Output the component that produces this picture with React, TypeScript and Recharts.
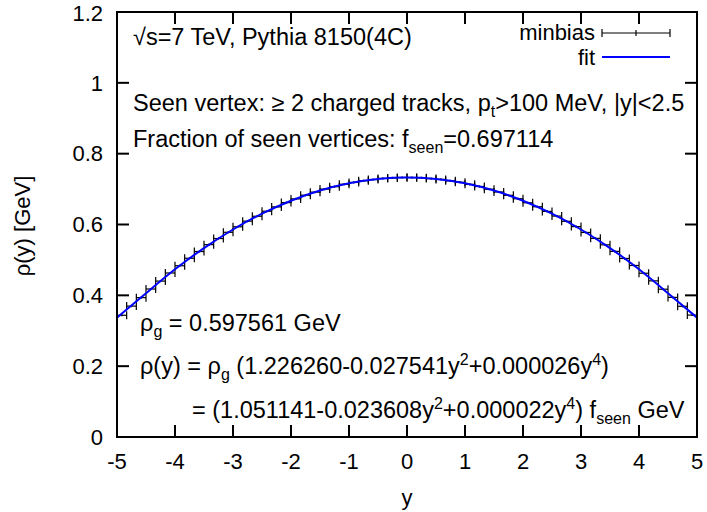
import { ComposedChart, Line, Scatter, ErrorBar, XAxis, YAxis } from 'recharts';

const FONT = '"Liberation Sans", Arial, Helvetica, sans-serif';

// bin centres of the minbias histogram (60 bins over -5..5)
const binCenters = [
  -4.9167, -4.75, -4.5833, -4.4167, -4.25, -4.0833, -3.9167, -3.75, -3.5833, -3.4167,
  -3.25, -3.0833, -2.9167, -2.75, -2.5833, -2.4167, -2.25, -2.0833, -1.9167, -1.75,
  -1.5833, -1.4167, -1.25, -1.0833, -0.9167, -0.75, -0.5833, -0.4167, -0.25, -0.0833,
  0.0833, 0.25, 0.4167, 0.5833, 0.75, 0.9167, 1.0833, 1.25, 1.4167, 1.5833,
  1.75, 1.9167, 2.0833, 2.25, 2.4167, 2.5833, 2.75, 2.9167, 3.0833, 3.25,
  3.4167, 3.5833, 3.75, 3.9167, 4.0833, 4.25, 4.4167, 4.5833, 4.75, 4.9167,
];

const minbias = [
  0.3437, 0.3696, 0.3935, 0.4179, 0.4402, 0.4631, 0.4836, 0.5047, 0.5237, 0.5431,
  0.5604, 0.578, 0.5936, 0.6095, 0.6233, 0.6375, 0.6497, 0.6618, 0.6723, 0.6827,
  0.6914, 0.7, 0.7069, 0.7137, 0.7188, 0.7237, 0.727, 0.7301, 0.7315, 0.7328,
  0.7326, 0.7318, 0.7297, 0.7274, 0.7233, 0.7192, 0.7133, 0.7073, 0.6996, 0.6918,
  0.6823, 0.6727, 0.6614, 0.6501, 0.637, 0.6238, 0.609, 0.5941, 0.5775, 0.5609,
  0.5426, 0.5242, 0.5041, 0.4843, 0.4624, 0.4409, 0.4173, 0.3942, 0.369, 0.3443,
];

const binHalfWidth = 0.0833;
const minbiasErr = 0.003;

const fitX = [-5, -4.5, -4, -3.5, -3, -2.5, -2, -1.5, -1, -0.5, 0, 0.5, 1, 1.5, 2, 2.5, 3, 3.5, 4, 4.5, 5];
const fitY = [
  0.337, 0.4059, 0.4734, 0.5335, 0.5859, 0.6305, 0.6672, 0.6958, 0.7163, 0.7287, 0.7328,
  0.7287, 0.7163, 0.6958, 0.6672, 0.6305, 0.5859, 0.5335, 0.4734, 0.4059, 0.337,
];

const xTicks = [-5, -4, -3, -2, -1, 0, 1, 2, 3, 4, 5];
const yTicks = [0, 0.2, 0.4, 0.6, 0.8, 1, 1.2];
const xMin = -5;
const xMax = 5;
const yMin = 0;
const yMax = 1.2;

const points = binCenters.map((x, i) => ({ x, v: minbias[i], ex: binHalfWidth, ey: minbiasErr }));
const fitRows = fitX.map((x, i) => ({ x, fit: fitY[i] }));

// plot box in page pixels (also drives the chart margins)
const W = 707;
const H = 512;
const box = { left: 117, top: 12, right: 697, bottom: 437 };
const TICK = 12;
const px = (v: number) => box.left + ((v - xMin) / (xMax - xMin)) * (box.right - box.left);
const py = (v: number) => box.bottom - ((v - yMin) / (yMax - yMin)) * (box.bottom - box.top);

const frame = { stroke: '#000', strokeWidth: 2 };
const tickFont = { fontSize: 22, fontFamily: FONT, fill: '#000' };
const txt = { fontSize: 23.5, fontFamily: FONT, fill: '#000' };
const sub = 16;

export default function App() {
  return (
    <div style={{ position: 'absolute', left: 0, top: 0, width: W, height: H, background: '#fff' }}>
      <ComposedChart
        width={W}
        height={H}
        data={fitRows}
        margin={{ top: box.top, right: W - box.right, bottom: 0, left: 0 }}
      >
        <XAxis
          dataKey="x"
          type="number"
          domain={[xMin, xMax]}
          ticks={xTicks}
          height={H - box.bottom}
          tickSize={0}
          tickLine={false}
          tickMargin={16}
          tick={tickFont}
          axisLine={false}
          allowDataOverflow
        />
        <YAxis
          type="number"
          domain={[yMin, yMax]}
          ticks={yTicks}
          width={box.left}
          tickSize={0}
          tickLine={false}
          tickMargin={14}
          tick={tickFont}
          axisLine={false}
          allowDataOverflow
        />
        <Scatter data={points} dataKey="v" shape={() => <g />} isAnimationActive={false}>
          <ErrorBar dataKey="ex" direction="x" width={4} stroke="#000" strokeWidth={1.2} />
          <ErrorBar dataKey="ey" direction="y" width={0} stroke="#000" strokeWidth={1.2} />
        </Scatter>
        <Line
          dataKey="fit"
          type="natural"
          stroke="#0000ff"
          strokeWidth={2}
          dot={false}
          isAnimationActive={false}
        />
      </ComposedChart>

      <svg width={W} height={H} style={{ position: 'absolute', left: 0, top: 0, pointerEvents: 'none' }}>
        {/* plot border with inward ticks on all four sides */}
        <rect
          x={box.left}
          y={box.top}
          width={box.right - box.left}
          height={box.bottom - box.top}
          fill="none"
          stroke="#000"
          strokeWidth={2}
        />
        {xTicks.map((t) => (
          <g key={'tx' + t}>
            <line x1={px(t)} y1={box.top} x2={px(t)} y2={box.top + TICK} {...frame} />
            <line x1={px(t)} y1={box.bottom} x2={px(t)} y2={box.bottom - TICK} {...frame} />
          </g>
        ))}
        {yTicks.map((t) => (
          <g key={'ty' + t}>
            <line x1={box.left} y1={py(t)} x2={box.left + TICK} y2={py(t)} {...frame} />
            <line x1={box.right} y1={py(t)} x2={box.right - TICK} y2={py(t)} {...frame} />
          </g>
        ))}

        {/* legend */}
        <text x={595} y={40} textAnchor="end" {...tickFont}>minbias</text>
        <line x1={602} y1={33} x2={670} y2={33} stroke="#000" strokeWidth={1.2} />
        <line x1={602} y1={29} x2={602} y2={37} stroke="#000" strokeWidth={1.2} />
        <line x1={670} y1={29} x2={670} y2={37} stroke="#000" strokeWidth={1.2} />
        <line x1={636} y1={30} x2={636} y2={36} stroke="#000" strokeWidth={1.2} />
        <text x={595} y={65} textAnchor="end" {...tickFont}>fit</text>
        <line x1={602} y1={57} x2={670} y2={57} stroke="#0000ff" strokeWidth={2} />

        <text x={133} y={45} {...txt}>√s=7 TeV, Pythia 8150(4C)</text>
        <text x={133} y={111} {...txt}>
          Seen vertex: ≥ 2 charged tracks, p<tspan dy={6} fontSize={sub}>t</tspan>
          <tspan dy={-6}>&gt;100 MeV, |y|&lt;2.5</tspan>
        </text>
        <text x={133} y={147} {...txt}>
          Fraction of seen vertices: f<tspan dy={6} fontSize={sub}>seen</tspan>
          <tspan dy={-6}>=0.697114</tspan>
        </text>

        <text x={140} y={331} {...txt}>
          ρ<tspan dy={6} fontSize={sub}>g</tspan>
          <tspan dy={-6}> = 0.597561 GeV</tspan>
        </text>
        <text x={140} y={374} {...txt}>
          ρ(y) = ρ<tspan dy={6} fontSize={sub}>g</tspan>
          <tspan dy={-6}> (1.226260-0.027541y</tspan>
          <tspan dy={-9} fontSize={sub}>2</tspan>
          <tspan dy={9}>+0.000026y</tspan>
          <tspan dy={-9} fontSize={sub}>4</tspan>
          <tspan dy={9}>)</tspan>
        </text>
        <text x={192} y={418} {...txt}>
          = (1.051141-0.023608y<tspan dy={-9} fontSize={sub}>2</tspan>
          <tspan dy={9}>+0.000022y</tspan>
          <tspan dy={-9} fontSize={sub}>4</tspan>
          <tspan dy={9}>) f</tspan>
          <tspan dy={6} fontSize={sub}>seen</tspan>
          <tspan dy={-6}> GeV</tspan>
        </text>

        {/* axis titles */}
        <text x={px(0)} y={505} textAnchor="middle" {...tickFont}>y</text>
        <text x={0} y={0} textAnchor="middle" transform="translate(30,226) rotate(-90)" {...tickFont}>
          ρ(y) [GeV]
        </text>
      </svg>
    </div>
  );
}
